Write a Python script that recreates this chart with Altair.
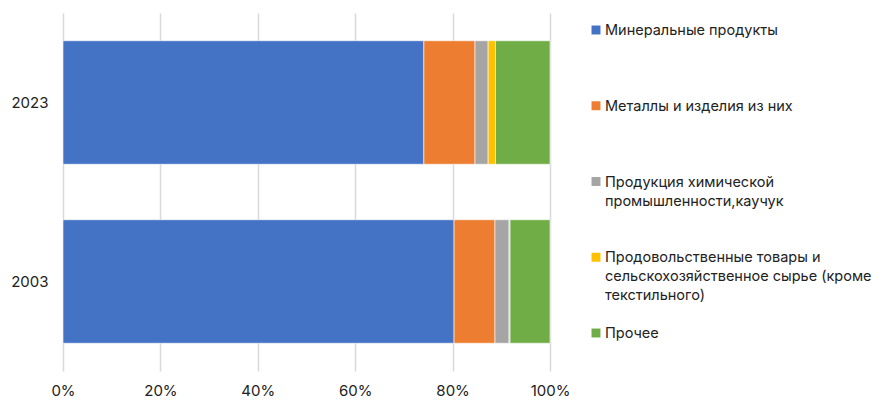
import altair as alt
import pandas as pd

years = ["2023", "2003"]
categories = [
    "Минеральные продукты",
    "Металлы и изделия из них",
    "Продукция химической\nпромышленности,каучук",
    "Продовольственные товары и\nсельскохозяйственное сырье (кроме\nтекстильного)",
    "Прочее",
]
values_2023 = [74.1, 10.5, 2.7, 1.5, 11.2]
values_2003 = [80.3, 8.4, 2.9, 0.2, 8.2]
colors = ["#4472C4", "#ED7D31", "#A5A5A5", "#FFC000", "#70AD47"]

rows = []
for y, vals in zip(years, [values_2023, values_2003]):
    for i, (c, v) in enumerate(zip(categories, vals)):
        rows.append({"year": y, "cat": c, "order": i, "value": v})
df = pd.DataFrame(rows)
leg = pd.DataFrame({"cat": categories, "order": list(range(len(categories)))})

FONT = "Inter"
color_scale = alt.Scale(domain=categories, range=colors)

bars = alt.Chart(df).mark_bar(stroke="white", strokeWidth=0.6).encode(
    x=alt.X("value:Q", stack="normalize",
            scale=alt.Scale(domain=[0, 1], nice=False),
            axis=alt.Axis(format="%", values=[0, 0.2, 0.4, 0.6, 0.8, 1.0], title=None,
                          domain=False, ticks=False, labelPadding=12, labelFlush=False,
                          labelFontSize=15, labelColor="#222", labelFont=FONT,
                          gridColor="#d9d9d9", gridWidth=1.5)),
    y=alt.Y("year:N", sort=years, title=None,
            scale=alt.Scale(paddingInner=0.31, paddingOuter=0.155),
            axis=alt.Axis(domain=False, ticks=False, grid=False, labelPadding=15,
                          labelFontSize=15, labelColor="#222", labelFont=FONT)),
    color=alt.Color("cat:N", scale=color_scale, legend=None),
    order=alt.Order("order:Q"),
).properties(width=487, height=358)

leg_y = alt.Y("cat:N", sort=categories, axis=None,
              scale=alt.Scale(type="point", range=[17, 320], padding=0))

sq = alt.Chart(leg).mark_square(size=80, opacity=1).encode(
    x=alt.value(16),
    y=leg_y,
    color=alt.Color("cat:N", scale=color_scale, legend=None),
)
txt = alt.Chart(leg).mark_text(align="left", baseline="alphabetic", dy=5, fontSize=14.5,
                               font=FONT, color="#222", lineBreak="\n",
                               lineHeight=19).encode(
    x=alt.value(25),
    y=leg_y,
    text="cat:N",
)
legend_chart = alt.layer(sq, txt).properties(width=250, height=358)

chart = alt.hconcat(bars, legend_chart, spacing=30, bounds="flush").properties(
    padding={"left": 2, "top": 5, "right": 0, "bottom": 0}
).configure_view(stroke=None)

chart.save("out.html", embed_options={"renderer": "svg", "actions": False})
